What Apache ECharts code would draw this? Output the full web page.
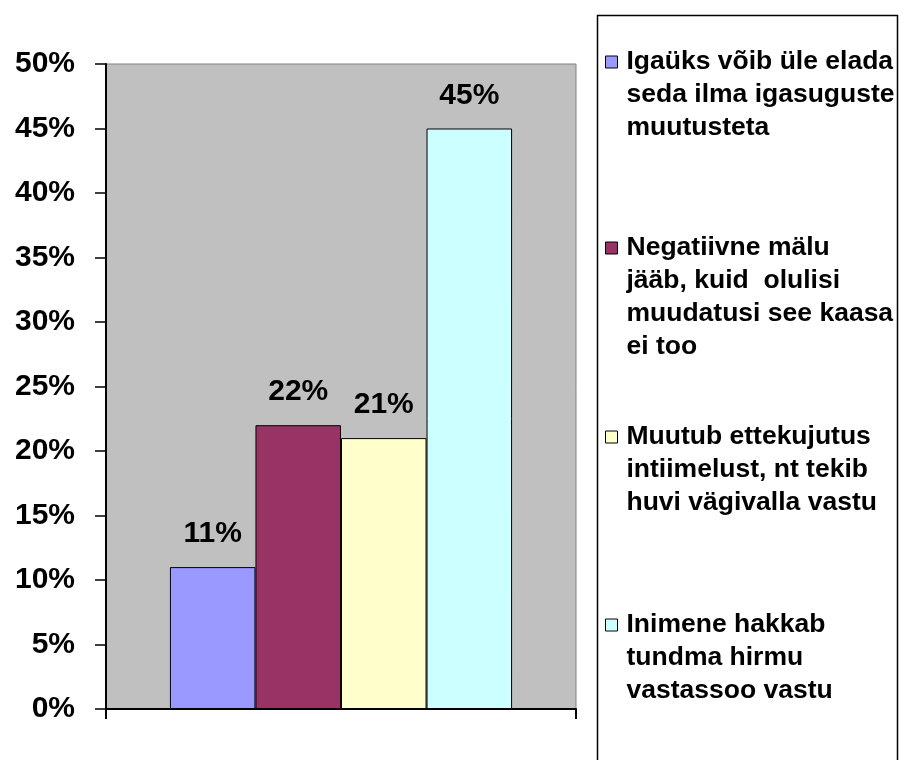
<!DOCTYPE html>
<html>
<head>
<meta charset="utf-8">
<script src="https://cdn.jsdelivr.net/npm/echarts@6/dist/echarts.min.js"></script>
<style>
html,body{margin:0;padding:0;background:#fff;}
#chart{width:901px;height:760px;}
</style>
</head>
<body>
<div id="chart"></div>
<script>
var categories = [''];
var seriesNames = [
  'Igaüks võib üle elada\nseda ilma igasuguste\nmuutusteta',
  'Negatiivne mälu\njääb, kuid  olulisi\nmuudatusi see kaasa\nei too',
  'Muutub ettekujutus\nintiimelust, nt tekib\nhuvi vägivalla vastu',
  'Inimene hakkab\ntundma hirmu\nvastassoo vastu'
];
var values1 = [11];
var values2 = [22];
var values3 = [21];
var values4 = [45];
var seriesColors = ['#9999FF', '#993366', '#FFFFCC', '#CCFFFF'];
var yMin = 0, yMax = 50, yInterval = 5;

var FONT = '"Liberation Sans", Arial, sans-serif';
var allValues = [values1, values2, values3, values4];
var LH = 33;
var legendCenters = [62, 248, 437, 625];

var series = seriesNames.map(function (name, i) {
  return {
    name: name,
    type: 'bar',
    data: allValues[i],
    barGap: '0%',
    barCategoryGap: '27.2%',
    itemStyle: { color: seriesColors[i], borderColor: '#000', borderWidth: 1 },
    label: {
      show: true,
      position: 'top',
      distance: 18,
      formatter: '{c}%',
      color: '#000',
      fontFamily: FONT,
      fontWeight: 'bold',
      fontSize: 30
    }
  };
});

var legends = seriesNames.map(function (name, i) {
  var n = name.split('\n').length;
  var pre = new Array(n).join('\n');
  return {
    data: [name],
    orient: 'vertical',
    left: 605,
    top: legendCenters[i] - (2 * n - 1) * LH / 2,
    padding: 0,
    itemWidth: 12,
    itemHeight: 12,
    icon: 'rect',
    itemStyle: { borderColor: '#000', borderWidth: 1 },
    selectedMode: false,
    formatter: function (nm) { return pre + nm; },
    textStyle: {
      color: '#000',
      fontFamily: FONT,
      fontWeight: 'bold',
      fontSize: 26.5,
      lineHeight: LH,
      padding: [0, 0, 0, 4]
    }
  };
});

var chart = echarts.init(document.getElementById('chart'), null, { renderer: 'canvas' });
chart.setOption({
  animation: false,
  backgroundColor: '#ffffff',
  grid: {
    left: 106, right: 325, top: 64, bottom: 51,
    show: true, backgroundColor: '#C0C0C0', borderColor: '#808080', borderWidth: 1
  },
  legend: legends,
  graphic: [{
    type: 'rect',
    shape: { x: 597.5, y: 15.5, width: 300, height: 760 },
    style: { fill: 'none', stroke: '#000', lineWidth: 1.5 },
    z: 0
  }],
  xAxis: {
    type: 'category',
    data: categories,
    axisLine: { show: true, lineStyle: { color: '#000', width: 2 } },
    axisTick: { show: true, length: 10, lineStyle: { color: '#000', width: 2 } },
    axisLabel: { show: false },
    splitLine: { show: false }
  },
  yAxis: {
    type: 'value',
    min: yMin, max: yMax, interval: yInterval,
    axisLine: { show: true, lineStyle: { color: '#000', width: 2 } },
    axisTick: { show: true, length: 11, lineStyle: { color: '#000', width: 1.5 } },
    splitLine: { show: false },
    axisLabel: {
      formatter: '{value}%',
      color: '#000',
      fontFamily: FONT,
      fontWeight: 'bold',
      fontSize: 30,
      margin: 31
    }
  },
  series: series
});
</script>
</body>
</html>
